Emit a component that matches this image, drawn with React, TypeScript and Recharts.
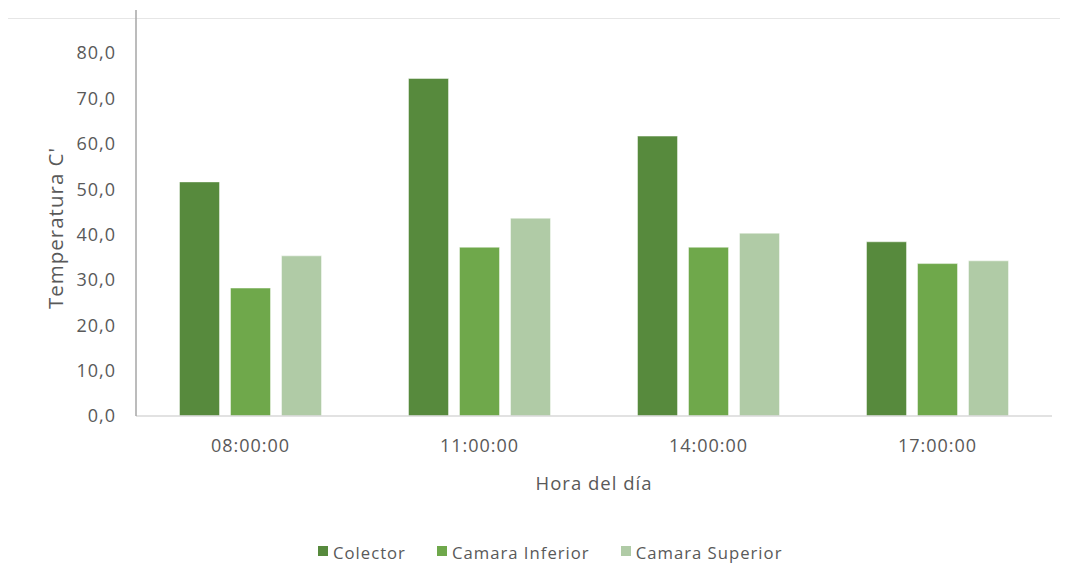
import React from 'react';
import { BarChart, Bar, XAxis, YAxis, Legend } from 'recharts';

const times = ['08:00:00', '11:00:00', '14:00:00', '17:00:00'];
const colector = [51.6, 74.4, 61.7, 38.4];
const camaraInferior = [28.2, 37.2, 37.2, 33.6];
const camaraSuperior = [35.3, 43.6, 40.3, 34.2];
const yTicks = [0, 10, 20, 30, 40, 50, 60, 70, 80];

const seriesNames = ['Colector', 'Camara Inferior', 'Camara Superior'];
const seriesColors = ['#578a3d', '#6fa84b', '#b0cba6'];

const data = times.map((t, i) => ({
  time: t,
  colector: colector[i],
  inferior: camaraInferior[i],
  superior: camaraSuperior[i],
}));

const FONT = '"Open Sans", "Liberation Sans", sans-serif';
const TEXT = '#595959';

const LegendContent = () => (
  <div
    style={{
      height: 70,
      boxSizing: 'border-box',
      paddingTop: 43,
      paddingLeft: 318,
      display: 'flex',
      alignItems: 'center',
      fontFamily: FONT,
      fontSize: 16.7,
      letterSpacing: 1,
      color: TEXT,
    }}
  >
    {seriesNames.map((n, i) => (
      <div key={n} style={{ display: 'flex', alignItems: 'center', marginRight: 31, height: 20 }}>
        <span
          style={{
            display: 'inline-block',
            width: 10,
            height: 10,
            background: seriesColors[i],
            marginRight: 5,
            marginTop: -4,
          }}
        />
        <span>{n}</span>
      </div>
    ))}
  </div>
);

export default function App() {
  return (
    <div style={{ position: 'relative', width: 1068, height: 586, marginLeft: -8, marginTop: -8, background: '#fff' }}>
      <div style={{ position: 'absolute', top: 18, left: 8, width: 1060, height: 1, background: '#e6e6e6' }} />
      <BarChart
        width={1068}
        height={586}
        data={data}
        margin={{ top: 10, right: 16, left: 0, bottom: 20 }}
        barCategoryGap="19%"
        barGap={11}
      >
        <XAxis
          dataKey="time"
          axisLine={{ stroke: '#d9d9d9', strokeWidth: 1.5 }}
          tickLine={false}
          tickSize={0}
          tickMargin={23}
          height={80}
          tick={{ fill: TEXT, fontSize: 18, fontFamily: FONT, letterSpacing: 1 }}
          label={{
            value: 'Hora del día',
            position: 'insideBottom',
            offset: 6,
            fill: TEXT,
            fontSize: 18.5,
            fontFamily: FONT,
            letterSpacing: 1,
          }}
        />
        <YAxis
          width={136}
          domain={[0, 89.5]}
          ticks={yTicks}
          allowDataOverflow
          axisLine={{ stroke: '#a6a6a6', strokeWidth: 1.5 }}
          tickLine={false}
          tickSize={0}
          tickMargin={20}
          tickFormatter={(v: number) => v.toFixed(1).replace('.', ',')}
          tick={{ fill: TEXT, fontSize: 18, fontFamily: FONT, letterSpacing: 1 }}
          label={{
            value: "Temperatura C'",
            angle: -90,
            position: 'center',
            dx: -12,
            dy: 15,
            fill: TEXT,
            fontSize: 20.5,
            fontFamily: FONT,
            letterSpacing: 1,
          }}
        />
        <Legend verticalAlign="bottom" content={<LegendContent />} />
        <Bar dataKey="colector" name={seriesNames[0]} fill={seriesColors[0]} stroke="#ffffff" strokeOpacity={0.45} isAnimationActive={false} />
        <Bar dataKey="inferior" name={seriesNames[1]} fill={seriesColors[1]} stroke="#ffffff" strokeOpacity={0.45} isAnimationActive={false} />
        <Bar dataKey="superior" name={seriesNames[2]} fill={seriesColors[2]} stroke="#ffffff" strokeOpacity={0.45} isAnimationActive={false} />
      </BarChart>
    </div>
  );
}
